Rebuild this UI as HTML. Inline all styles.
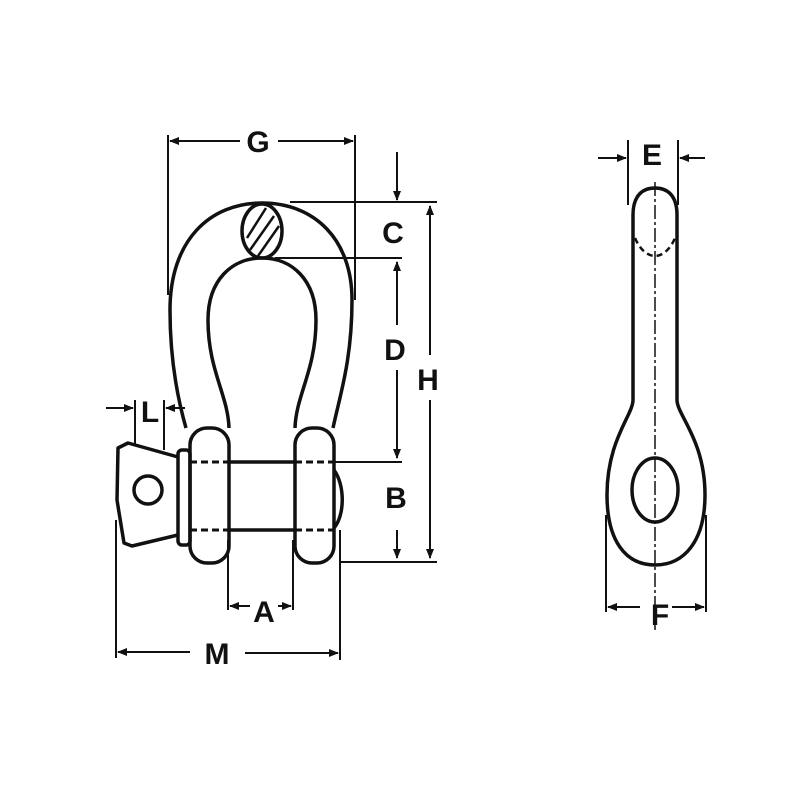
<!DOCTYPE html>
<html><head><style>body{margin:0;background:#fff}svg{display:block}
text{font-family:"Liberation Sans",sans-serif;font-weight:bold;font-size:30px;fill:#111;text-anchor:middle}</style></head>
<body><svg width="800" height="800" viewBox="0 0 800 800" xmlns="http://www.w3.org/2000/svg">
<defs><marker id="a" markerWidth="10" markerHeight="8" refX="9" refY="4" orient="auto" markerUnits="userSpaceOnUse"><path d="M0,0 L10,4 L0,8z" fill="#111"/></marker></defs>
<g fill="none" stroke="#111" stroke-width="3.5" stroke-linejoin="round">
<!-- bow outer -->
<path d="M186,428 C178,400 170,360 170,310 C170,240 210,203 262,203 C315,203 352,240 352,300 C352,360 340,395 333,428"/>
<!-- bow inner -->
<path d="M229,428 C228,395 208,370 208,320 C208,280 232,258 262,258 C292,258 316,280 316,320 C316,370 296,395 295,428"/>
<!-- pin section -->
<ellipse cx="262" cy="231" rx="20" ry="27"/>
<!-- ears -->
<rect x="190" y="428" width="39" height="135" rx="17"/>
<rect x="295" y="428" width="39" height="135" rx="17"/>
<path d="M334,470 C345,485 345,515 334,528"/>
<!-- pin -->
<line x1="229" y1="462" x2="295" y2="462"/><line x1="229" y1="530" x2="295" y2="530"/>
<!-- collar & head -->
<rect x="178" y="450" width="12" height="95" rx="4"/>
<path d="M178,457 L128,443 L118,448 L117,500 L124,543 L132,546 L178,535"/>
<circle cx="148" cy="490" r="14"/>
<!-- side view -->
<path d="M633,400 L633,215 C633,195 643,188 655,188 C667,188 677,195 677,215 L677,400 C677,415 705,440 705,495 C705,540 685,565 655,565 C625,565 607,540 607,495 C607,440 633,415 633,400Z"/>
<ellipse cx="655" cy="490" rx="23" ry="32"/>
</g>
<g stroke="#111" stroke-width="2.5" fill="none">
<line x1="250" y1="250" x2="274" y2="216"/><line x1="258" y1="256" x2="279" y2="226"/><line x1="247" y1="238" x2="266" y2="208"/>
<path d="M635,238 C640,250 648,256 655,256 C662,256 670,250 675,238" stroke-dasharray="6,4"/>
<g stroke-dasharray="7,4" stroke-width="3"><line x1="190" y1="462" x2="229" y2="462"/><line x1="190" y1="530" x2="229" y2="530"/><line x1="295" y1="462" x2="334" y2="462"/><line x1="295" y1="530" x2="334" y2="530"/></g>
<line x1="655" y1="182" x2="655" y2="630" stroke-width="1.5" stroke-dasharray="14,3,3,3"/>
</g>
<g stroke="#111" stroke-width="2" fill="none">
<!-- G -->
<line x1="168" y1="135" x2="168" y2="295"/><line x1="355" y1="135" x2="355" y2="300"/>
<line x1="240" y1="141" x2="170" y2="141" marker-end="url(#a)"/><line x1="278" y1="141" x2="353" y2="141" marker-end="url(#a)"/>
<!-- C/D/B/H -->
<line x1="290" y1="202" x2="437" y2="202"/><line x1="275" y1="258" x2="402" y2="258"/>
<line x1="335" y1="462" x2="402" y2="462"/><line x1="340" y1="562" x2="437" y2="562"/>
<line x1="397" y1="152" x2="397" y2="200" marker-end="url(#a)"/>
<line x1="397" y1="325" x2="397" y2="262" marker-end="url(#a)"/><line x1="397" y1="370" x2="397" y2="458" marker-end="url(#a)"/>
<line x1="397" y1="530" x2="397" y2="558" marker-end="url(#a)"/>
<line x1="430" y1="355" x2="430" y2="206" marker-end="url(#a)"/><line x1="430" y1="400" x2="430" y2="558" marker-end="url(#a)"/>
<!-- A -->
<line x1="228" y1="540" x2="228" y2="610"/><line x1="293" y1="540" x2="293" y2="610"/>
<line x1="250" y1="606" x2="230" y2="606" marker-end="url(#a)"/><line x1="278" y1="606" x2="291" y2="606" marker-end="url(#a)"/>
<!-- M -->
<line x1="116" y1="520" x2="116" y2="658"/><line x1="340" y1="530" x2="340" y2="660"/>
<line x1="190" y1="652" x2="118" y2="652" marker-end="url(#a)"/><line x1="245" y1="653" x2="338" y2="653" marker-end="url(#a)"/>
<!-- L -->
<line x1="135" y1="400" x2="135" y2="445"/><line x1="164" y1="400" x2="164" y2="450"/>
<line x1="106" y1="408" x2="133" y2="408" marker-end="url(#a)"/><line x1="185" y1="408" x2="166" y2="408" marker-end="url(#a)"/>
<!-- E -->
<line x1="628" y1="140" x2="628" y2="205"/><line x1="678" y1="140" x2="678" y2="205"/>
<line x1="598" y1="158" x2="626" y2="158" marker-end="url(#a)"/><line x1="705" y1="158" x2="680" y2="158" marker-end="url(#a)"/>
<!-- F -->
<line x1="606" y1="515" x2="606" y2="612"/><line x1="706" y1="515" x2="706" y2="612"/>
<line x1="640" y1="607" x2="608" y2="607" marker-end="url(#a)"/><line x1="672" y1="607" x2="704" y2="607" marker-end="url(#a)"/>
</g>
<text x="258" y="152">G</text><text x="393" y="243">C</text><text x="395" y="360">D</text>
<text x="396" y="508">B</text><text x="428" y="390">H</text><text x="264" y="622">A</text>
<text x="217" y="664">M</text><text x="150" y="422">L</text><text x="652" y="165">E</text><text x="660" y="625">F</text>
</svg></body></html>
